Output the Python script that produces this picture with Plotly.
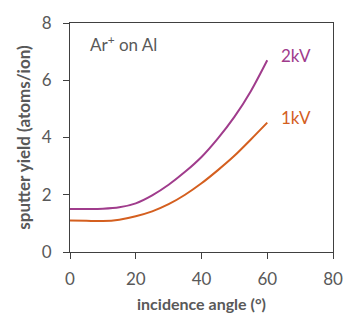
import plotly.graph_objects as go

# Sputter yield of aluminium under Ar+ bombardment vs. incidence angle
angle_deg = [0, 5, 10, 15, 20, 25, 30, 35, 40, 45, 50, 55, 60]
yield_2kv = [1.50, 1.50, 1.51, 1.56, 1.70, 1.98, 2.35, 2.80, 3.32, 3.97, 4.72, 5.62, 6.70]
yield_1kv = [1.10, 1.09, 1.08, 1.13, 1.25, 1.42, 1.67, 2.00, 2.40, 2.86, 3.36, 3.93, 4.52]
series_names = ["2kV", "1kV"]
series_colors = ["#A03C8C", "#D45F1F"]

x_ticks = [0, 20, 40, 60, 80]
y_ticks = [0, 2, 4, 6, 8]

FONT = "Lato, 'Noto Sans', sans-serif"
GREY = "#595959"
AXIS = "#404040"

fig = go.Figure()
for name, ys, col in zip(series_names, [yield_2kv, yield_1kv], series_colors):
    fig.add_trace(go.Scatter(
        x=angle_deg, y=ys, mode="lines", name=name,
        line=dict(color=col, width=2, shape="spline", smoothing=0.8),
        showlegend=False,
    ))
    # series label to the right of the curve end
    fig.add_annotation(
        x=angle_deg[-1], y=ys[-1], text=name, showarrow=False,
        xanchor="left", yanchor="middle", xshift=12, yshift=5,
        font=dict(family=FONT, size=17, color=col),
    )

fig.add_annotation(
    x=5.5, y=7.28, text="Ar<sup>+</sup> on Al", showarrow=False,
    xanchor="left", yanchor="middle",
    font=dict(family=FONT, size=17, color=GREY),
)

fig.update_xaxes(
    range=[0, 80], tickvals=x_ticks, showgrid=False, zeroline=False,
    showline=True, linecolor=AXIS, linewidth=1, mirror=True,
    ticks="outside", ticklen=6, tickcolor=AXIS, ticklabelstandoff=6,
    tickfont=dict(family=FONT, size=17, color=GREY),
    title=dict(text="<b>incidence angle (°)</b>", standoff=10,
               font=dict(family=FONT, size=16, color=GREY)),
)
fig.update_yaxes(
    range=[0, 8], tickvals=y_ticks, showgrid=False, zeroline=False,
    showline=True, linecolor=AXIS, linewidth=1, mirror=True,
    ticks="outside", ticklen=6, tickcolor=AXIS, ticklabelstandoff=8,
    tickfont=dict(family=FONT, size=17, color=GREY),
    title=dict(text="<b>sputter yield (atoms/ion)</b>", standoff=6,
               font=dict(family=FONT, size=17, color=GREY)),
)

fig.update_layout(
    width=358, height=331,
    margin=dict(l=70, r=25, t=18, b=79),
    paper_bgcolor="white", plot_bgcolor="white",
)

fig.write_html("out.html")
